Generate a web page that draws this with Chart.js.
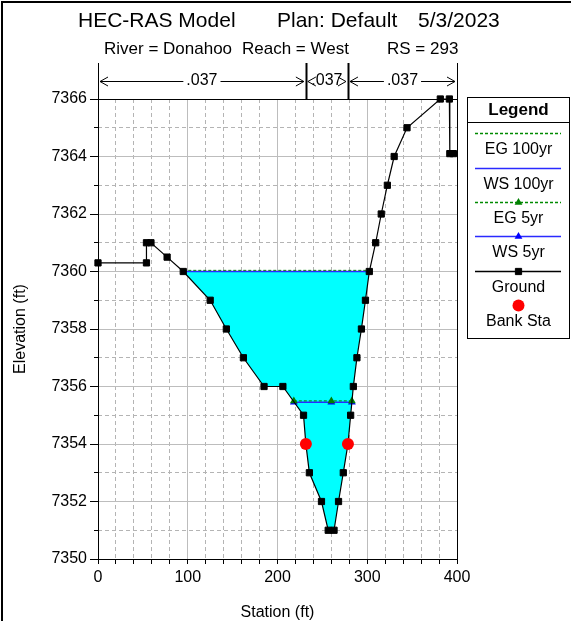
<!DOCTYPE html>
<html>
<head>
<meta charset="utf-8">
<script src="https://cdn.jsdelivr.net/npm/chart.js@4.4.0/dist/chart.umd.min.js"></script>
<style>
  html, body { margin: 0; padding: 0; background: #fff; }
  canvas { display: block; }
</style>
</head>
<body>
<canvas id="xs" width="571" height="621"></canvas>
<script>
// HEC-RAS cross section, RS 293
const titleParts = ['HEC-RAS Model', 'Plan: Default', '5/3/2023'];
const subtitleParts = ['River = Donahoo', 'Reach = West', 'RS = 293'];

const groundSta  = [0, 54, 54, 59, 77, 95, 125, 143, 162, 185, 206, 229, 231.6, 235.5, 249, 256.5, 263, 268, 273.3, 278.5, 281.5, 284.5, 288.5, 293.5, 298, 302.3, 309.4, 315.6, 322.4, 330, 344.3, 381.4, 391.5, 392, 396];
const groundElev = [7360.3, 7360.3, 7361, 7361, 7360.5, 7360, 7359, 7358, 7357, 7356, 7356, 7355, 7354, 7353, 7352, 7351, 7351, 7352, 7353, 7354, 7355, 7356, 7357, 7358, 7359, 7360, 7361, 7362, 7363, 7364, 7365, 7366, 7366, 7364.1, 7364.1];

const bankSta  = [231.6, 278.5];
const bankElev = [7354, 7354];

const ws100Sta  = [95, 302.3];
const ws100Elev = [7360, 7360];
const eg100Elev = [7360.04, 7360.04];

const ws5Sta  = [218.2, 260, 282.9];
const ws5Elev = [7355.45, 7355.45, 7355.45];
const eg5Elev = [7355.5, 7355.5, 7355.5];

// Manning's n values between breaks (stations)
const nBreaks = [0, 231.6, 278.5, 400];
const nValues = ['.037', '.037', '.037'];

const FONT = "'Liberation Sans', Arial, sans-serif";
const pts = (xs, ys) => xs.map((x, i) => ({ x, y: ys[i] }));

const frameAndTitles = {
  id: 'frameAndTitles',
  beforeDatasetsDraw(chart) {
    const { ctx, chartArea: a } = chart;
    ctx.save();
    ctx.strokeStyle = '#000';
    ctx.lineWidth = 1;
    ctx.strokeRect(a.left + 0.5, a.top + 0.5, a.right - a.left, a.bottom - a.top);
    ctx.restore();
  },
  afterDraw(chart) {
    const { ctx, scales } = chart;
    ctx.save();
    // outer frame
    ctx.strokeStyle = '#000';
    ctx.lineWidth = 2;
    ctx.strokeRect(2, 2, 800, 800);

    ctx.fillStyle = '#000';
    ctx.textBaseline = 'middle';
    ctx.textAlign = 'left';
    ctx.font = '21px ' + FONT;
    [78, 277, 418].forEach((x, i) => ctx.fillText(titleParts[i], x, 21));
    ctx.font = '17px ' + FONT;
    [104, 242, 387].forEach((x, i) => ctx.fillText(subtitleParts[i], x, 49));

    // n value bar
    const x = scales.x;
    const y0 = 63, y1 = chart.chartArea.top, ay = 81;
    ctx.strokeStyle = '#000';
    nBreaks.forEach((s, i) => {
      const px = Math.round(x.getPixelForValue(s));
      ctx.lineWidth = (i === 0 || i === nBreaks.length - 1) ? 1 : 2;
      ctx.beginPath();
      ctx.moveTo(px + 0.5, y0);
      ctx.lineTo(px + 0.5, y1);
      ctx.stroke();
    });
    ctx.font = '16px ' + FONT;
    ctx.textAlign = 'center';
    ctx.lineWidth = 1;
    nValues.forEach((lab, i) => {
      const a = x.getPixelForValue(nBreaks[i]) + 2;
      const b = x.getPixelForValue(nBreaks[i + 1]) - 2;
      const mid = (a + b) / 2;
      const w = ctx.measureText(lab).width;
      ctx.fillText(lab, mid, ay);
      ctx.beginPath();
      if (mid - w / 2 - 3 > a) { ctx.moveTo(a, ay + 0.5); ctx.lineTo(mid - w / 2 - 3, ay + 0.5); }
      if (mid + w / 2 + 3 < b) { ctx.moveTo(mid + w / 2 + 3, ay + 0.5); ctx.lineTo(b, ay + 0.5); }
      // arrow heads
      ctx.moveTo(a + 8, ay - 4); ctx.lineTo(a, ay + 0.5); ctx.lineTo(a + 8, ay + 5);
      ctx.moveTo(b - 8, ay - 4); ctx.lineTo(b, ay + 0.5); ctx.lineTo(b - 8, ay + 5);
      ctx.stroke();
    });
    ctx.restore();
  }
};

const legendBox = {
  id: 'legendBox',
  afterDraw(chart) {
    const ctx = chart.ctx;
    const L = 467.5, R = 569.5, T = 97.5, B = 338.5, cx = (L + R) / 2;
    ctx.save();
    ctx.fillStyle = '#fff';
    ctx.fillRect(L, T, R - L, B - T);
    ctx.strokeStyle = '#000';
    ctx.lineWidth = 1;
    ctx.strokeRect(L, T, R - L, B - T);
    ctx.beginPath();
    ctx.moveTo(L, 122.5); ctx.lineTo(R, 122.5);
    ctx.stroke();
    ctx.fillStyle = '#000';
    ctx.textAlign = 'center';
    ctx.textBaseline = 'middle';
    ctx.font = 'bold 17px ' + FONT;
    ctx.fillText('Legend', cx, 110);

    const lineY = [133, 168, 202, 236, 271, 305];
    const textY = [150, 185, 219, 253, 288, 322];
    chart.data.datasets.forEach((ds, i) => {
      const y = lineY[i];
      if (ds.showLine !== false) {
        ctx.strokeStyle = ds.borderColor;
        ctx.lineWidth = Math.max(ds.borderWidth, 1.3);
        ctx.setLineDash(ds.borderDash || []);
        ctx.beginPath();
        ctx.moveTo(475, y + 0.5); ctx.lineTo(561, y + 0.5);
        ctx.stroke();
        ctx.setLineDash([]);
      }
      if (ds.pointRadius > 0) {
        ctx.fillStyle = ds.pointBackgroundColor;
        ctx.strokeStyle = ds.pointBorderColor;
        ctx.lineWidth = ds.pointBorderWidth;
        Chart.helpers.drawPoint(ctx, { pointStyle: ds.pointStyle, rotation: 0, radius: ds.pointRadius, borderWidth: ds.pointBorderWidth }, cx, y + 0.5);
      }
      ctx.fillStyle = '#000';
      ctx.font = '16px ' + FONT;
      ctx.fillText(ds.label, cx, textY[i]);
    });
    ctx.restore();
  }
};

const gridDash = '#b4b4b4';
const gridSolid = '#bdbdbd';
const plainNum = v => String(v);

new Chart(document.getElementById('xs'), {
  type: 'line',
  data: {
    datasets: [
      { label: 'EG 100yr', data: pts(ws100Sta, eg100Elev), borderColor: '#008a00', borderWidth: 1, borderDash: [3, 2],
        pointRadius: 0, fill: false, order: 5 },
      { label: 'WS 100yr', data: pts(ws100Sta, ws100Elev), borderColor: '#2a2aff', borderWidth: 1.5,
        pointRadius: 0, fill: 4, backgroundColor: '#00ffff', order: 6 },
      { label: 'EG 5yr', data: pts(ws5Sta, eg5Elev), borderColor: '#008a00', borderWidth: 1, borderDash: [3, 2],
        pointStyle: 'triangle', pointRadius: 4.5, pointBackgroundColor: '#008000', pointBorderColor: '#008000', pointBorderWidth: 0,
        fill: false, order: 3 },
      { label: 'WS 5yr', data: pts(ws5Sta, ws5Elev), borderColor: '#2a2aff', borderWidth: 1.5,
        pointStyle: 'triangle', pointRadius: 4.5, pointBackgroundColor: '#0000ff', pointBorderColor: '#0000ff', pointBorderWidth: 0,
        fill: false, order: 4 },
      { label: 'Ground', data: pts(groundSta, groundElev), borderColor: '#000', borderWidth: 1.2,
        pointStyle: 'rect', pointRadius: 4.4, pointBackgroundColor: '#000', pointBorderColor: '#000', pointBorderWidth: 1,
        fill: false, clip: false, order: 2 },
      { label: 'Bank Sta', data: pts(bankSta, bankElev), showLine: false, borderColor: '#ff0000', borderWidth: 0,
        pointStyle: 'circle', pointRadius: 6, pointBackgroundColor: '#ff0000', pointBorderColor: '#ff0000', pointBorderWidth: 0,
        clip: false, order: 1 }
    ]
  },
  options: {
    responsive: false,
    animation: false,
    devicePixelRatio: 1,
    layout: { padding: { left: 0, right: 114, top: 99, bottom: 0 } },
    plugins: { legend: { display: false }, tooltip: { enabled: false }, title: { display: false } },
    scales: {
      x: {
        type: 'linear', position: 'bottom', min: 0, max: 400, weight: 1,
        ticks: { stepSize: 100, color: '#000', font: { size: 16, family: FONT }, padding: 4, maxRotation: 0, callback: plainNum },
        grid: { color: gridSolid, tickColor: '#000', tickLength: 5, tickBorderDash: [] },
        border: { color: '#000', width: 1 },
        title: { display: true, text: 'Station (ft)', color: '#000', font: { size: 16, family: FONT, lineHeight: 1 }, padding: { top: 0, bottom: 0 } },
        afterFit(s) { s.height = 62; }
      },
      xMinor: {
        type: 'linear', position: 'bottom', min: 0, max: 400, weight: 0,
        ticks: { stepSize: 20, display: false, autoSkip: false },
        grid: { color: c => c.tick.value % 100 === 0 ? 'rgba(0,0,0,0)' : gridDash, tickColor: '#000', tickLength: 5, tickBorderDash: [] },
        border: { display: false, dash: [4, 3] },
        afterFit(s) { s.height = 0; }
      },
      y: {
        type: 'linear', position: 'left', min: 7350, max: 7366, weight: 1,
        ticks: { stepSize: 2, color: '#000', font: { size: 16, family: FONT }, padding: 3, callback: plainNum },
        grid: { color: gridSolid, tickColor: '#000', tickLength: 8, tickBorderDash: [] },
        border: { color: '#000', width: 1 },
        title: { display: true, text: 'Elevation (ft)', color: '#000', font: { size: 16, family: FONT }, padding: { top: 11, bottom: 0 } },
        afterFit(s) { s.width = 98; }
      },
      yMinor: {
        type: 'linear', position: 'left', min: 7350, max: 7366, weight: 0,
        ticks: { stepSize: 1, display: false, autoSkip: false },
        grid: { color: c => c.tick.value % 2 === 0 ? 'rgba(0,0,0,0)' : gridDash, tickColor: '#000', tickLength: 4, tickBorderDash: [] },
        border: { display: false, dash: [4, 3] },
        afterFit(s) { s.width = 0; }
      }
    }
  },
  plugins: [frameAndTitles, legendBox]
});
</script>
</body>
</html>
